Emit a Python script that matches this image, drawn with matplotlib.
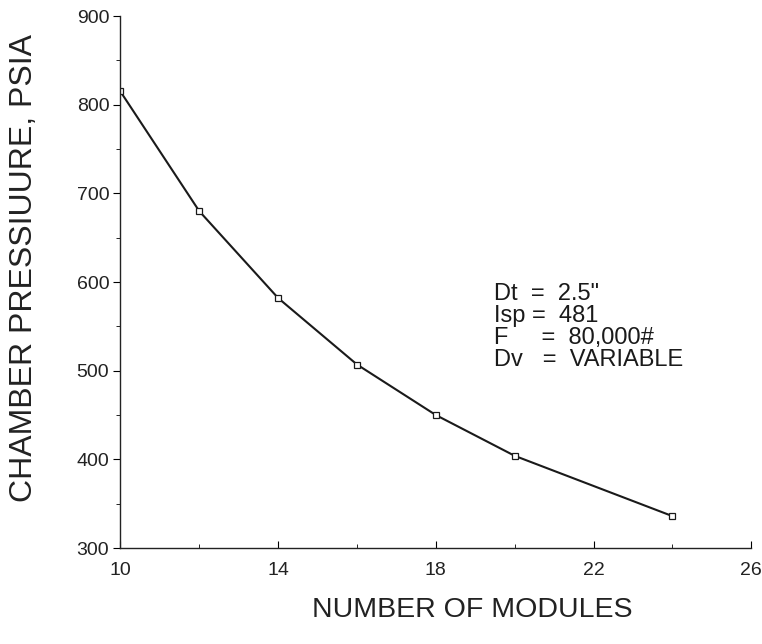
import matplotlib
matplotlib.use('Agg')
import matplotlib.pyplot as plt
from matplotlib.ticker import FixedLocator

plt.rcParams['font.family'] = ['Liberation Sans', 'DejaVu Sans']

modules = [10, 12, 14, 16, 18, 20, 24]
pressure = [815, 680, 582, 507, 450, 404, 336]
x_major = [10, 14, 18, 22, 26]
x_minor = [12, 16, 20, 24]
y_major = [300, 400, 500, 600, 700, 800, 900]
y_minor = [350, 450, 550, 650, 750, 850]

fig = plt.figure(figsize=(7.62, 6.44), dpi=100)
ax = fig.add_axes([0.158, 0.149, 0.828, 0.826])

ax.plot(modules, pressure, color='#1a1a1a', linewidth=1.5,
        marker='s', markersize=4.5, markerfacecolor='white',
        markeredgecolor='#1a1a1a', markeredgewidth=0.9)

ax.set_xlim(10, 26)
ax.set_ylim(300, 900)
ax.xaxis.set_major_locator(FixedLocator(x_major))
ax.xaxis.set_minor_locator(FixedLocator(x_minor))
ax.yaxis.set_major_locator(FixedLocator(y_major))
ax.yaxis.set_minor_locator(FixedLocator(y_minor))

for s in ['top', 'right']:
    ax.spines[s].set_visible(False)
for s in ['left', 'bottom']:
    ax.spines[s].set_color('#222222')
    ax.spines[s].set_linewidth(1.0)

ax.tick_params(axis='x', which='major', direction='in', length=5, labelsize=14, pad=10,
               labelcolor='#222222')
ax.tick_params(axis='x', which='minor', direction='in', length=3)
ax.tick_params(axis='y', which='major', direction='out', length=5, labelsize=14, pad=3,
               labelcolor='#222222')
ax.tick_params(axis='y', which='minor', direction='out', length=3)

fig.text(0.620, 0.042, 'NUMBER OF MODULES', fontsize=20.5, ha='center', va='baseline',
         color='#222222')
fig.text(0.032, 0.584, 'CHAMBER PRESSIUURE, PSIA', fontsize=23, rotation=90,
         ha='center', va='center', color='#222222')

ax.text(0.592, 0.498, 'Dt  =  2.5"\nIsp =  481\nF     =  80,000#\nDv   =  VARIABLE',
        transform=ax.transAxes, fontsize=17, va='top', ha='left',
        linespacing=1.0, color='#1a1a1a')

fig.savefig('out.png', dpi=100, facecolor='white')
